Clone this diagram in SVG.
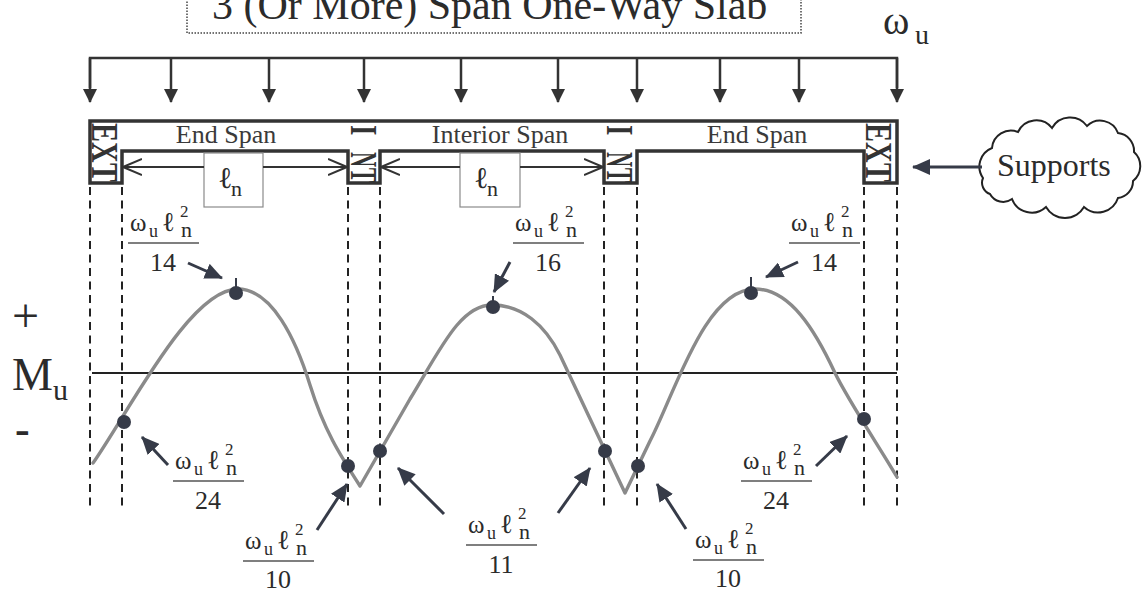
<svg xmlns="http://www.w3.org/2000/svg" width="1143" height="593" viewBox="0 0 1143 593">
<defs>
<style>
text{font-family:"Liberation Serif","Times New Roman",serif;fill:#2b2b2b}
.ld{stroke:#333;stroke-width:2.5;fill:none}
.ldr{stroke:#363b48;stroke-width:3;fill:none}
.dash{stroke:#222;stroke-width:2;stroke-dasharray:8 5.5;fill:none}
.dim{stroke:#333;stroke-width:2;fill:none}
.bar{stroke:#555;stroke-width:1.5}
.dot{fill:#363b48}
.w{font-size:25px}
.u{font-size:18px}
.l{font-size:27px}
.n{font-size:22px}
.s{font-size:17px}
.den{font-size:26px;text-anchor:middle}
.sp{font-weight:bold;font-size:38px;fill:#333}
.span{font-size:26px;text-anchor:middle;fill:#3a3a3a}
.lbox{fill:none;stroke:#8a8a8a;stroke-width:1.2}
</style>
<marker id="tri" viewBox="0 0 14 14" refX="13" refY="7" markerWidth="14" markerHeight="14" markerUnits="userSpaceOnUse" orient="auto"><path d="M0,0L14,7L0,14z" fill="#333"/></marker>
<marker id="big" viewBox="0 0 18 16" refX="17" refY="8" markerWidth="18" markerHeight="16" markerUnits="userSpaceOnUse" orient="auto"><path d="M0,0L18,8L0,16z" fill="#363b48"/></marker>
<marker id="chev" viewBox="0 0 20 18" refX="19" refY="9" markerWidth="20" markerHeight="18" markerUnits="userSpaceOnUse" orient="auto"><path d="M0,1L19,9L0,17" fill="none" stroke="#333" stroke-width="2"/></marker>
</defs>
<rect width="1143" height="593" fill="#fff"/>

<g id="title">
<rect x="187" y="-20" width="614" height="53" fill="none" stroke="#444" stroke-width="1.5" stroke-dasharray="1.5 1.5"/>
<text x="212" y="19" font-size="42">3 (Or More) Span One-Way Slab</text>
</g>

<g id="load-label">
<text x="883" y="34" font-size="40">ω</text>
<text x="915" y="44" font-size="28">u</text>
</g>

<g id="slab">
<path d="M90,121 H897 V183 H864 V151 H637 V183 H604 V151 H380 V183 H348 V151 H122 V183 H90 Z" fill="none" stroke="#333" stroke-width="3.5"/>
<text class="span" x="226" y="143">End Span</text>
<text class="span" x="500" y="143">Interior Span</text>
<text class="span" x="757" y="143">End Span</text>
</g>

<g id="support-ext-left">
<text class="sp" transform="translate(92,123) rotate(90) scale(0.75,1)">E</text>
<text class="sp" transform="translate(92,142) rotate(90) scale(0.75,1)">X</text>
<text class="sp" transform="translate(92,163) rotate(90) scale(0.75,1)">T</text>
</g>
<g id="support-int-1">
<text class="sp" transform="translate(351,125) rotate(90) scale(0.7,1)">I</text>
<text class="sp" transform="translate(351,152) rotate(90) scale(0.55,1)">N</text>
<text class="sp" transform="translate(351,168) rotate(90) scale(0.58,1)">T</text>
</g>
<g id="support-int-2">
<text class="sp" transform="translate(607,125) rotate(90) scale(0.7,1)">I</text>
<text class="sp" transform="translate(607,152) rotate(90) scale(0.55,1)">N</text>
<text class="sp" transform="translate(607,168) rotate(90) scale(0.58,1)">T</text>
</g>
<g id="support-ext-right">
<text class="sp" transform="translate(866,123) rotate(90) scale(0.75,1)">E</text>
<text class="sp" transform="translate(866,142) rotate(90) scale(0.75,1)">X</text>
<text class="sp" transform="translate(866,163) rotate(90) scale(0.75,1)">T</text>
</g>

<g id="ln-box-1">
<rect class="lbox" x="204" y="153" width="59" height="54"/>
<text x="218" y="188" font-size="30">ℓ</text>
<text x="231" y="196" font-size="22">n</text>
</g>
<g id="ln-box-2">
<rect class="lbox" x="460" y="153" width="60" height="54"/>
<text x="474" y="188" font-size="30">ℓ</text>
<text x="487" y="196" font-size="22">n</text>
</g>

<g id="supports-cloud">
<path d="M983,178 A20,20 0 0 1 992,148 A19,19 0 0 1 1018,132 A20,20 0 0 1 1052,128 A21,21 0 0 1 1087,126 A19,19 0 0 1 1118,133 A18,18 0 0 1 1134,152 A19,19 0 0 1 1133,181 A17,17 0 0 1 1118,198 A21,21 0 0 1 1084,207 A22,22 0 0 1 1046,207 A21,21 0 0 1 1012,199 A15,15 0 0 1 990,194 A12,12 0 0 1 983,178 Z" fill="#fff" stroke="#222" stroke-width="2"/>
<text x="997" y="176" font-size="32">Supports</text>
</g>

<g id="axis-labels">
<text x="12" y="332" font-size="48">+</text>
<text x="12" y="390" font-size="46">M</text>
<text x="53" y="400" font-size="30">u</text>
<text x="15" y="444" font-size="44" font-weight="bold">-</text>
</g>

<g id="guides">
<line class="dash" x1="90" y1="187" x2="90" y2="510"/>
<line class="dash" x1="122" y1="187" x2="122" y2="510"/>
<line class="dash" x1="348" y1="187" x2="348" y2="510"/>
<line class="dash" x1="380" y1="187" x2="380" y2="510"/>
<line class="dash" x1="604" y1="187" x2="604" y2="510"/>
<line class="dash" x1="637" y1="187" x2="637" y2="510"/>
<line class="dash" x1="864" y1="187" x2="864" y2="510"/>
<line class="dash" x1="897" y1="187" x2="897" y2="510"/>
<line x1="92" y1="373" x2="897" y2="373" stroke="#222" stroke-width="2"/>
</g>

<g id="moment-curve">
<path d="M93,463 C130,410 190,289 238,289 C272,289 296,340 310,385 S340,455 360,486 L410,399 C440,350 460,305 492,305 C522,305 545,325 560,355 L625,493 L650,441 C675,393 705,289 755,289 C790,289 815,330 835,373 C848,400 880,448 897,477" fill="none" stroke="#8a8a8a" stroke-width="3.4" stroke-linejoin="round" stroke-linecap="round"/>
<g stroke="#363b48" stroke-width="2">
<line x1="236" y1="278" x2="236" y2="289"/>
<line x1="493" y1="296" x2="493" y2="302"/>
<line x1="751" y1="277" x2="751" y2="288"/>
</g>
<circle class="dot" cx="124" cy="422" r="7"/>
<circle class="dot" cx="236" cy="293" r="7"/>
<circle class="dot" cx="348" cy="466" r="7"/>
<circle class="dot" cx="380" cy="451" r="7"/>
<circle class="dot" cx="493" cy="307" r="7"/>
<circle class="dot" cx="605" cy="451" r="7"/>
<circle class="dot" cx="638" cy="466" r="7"/>
<circle class="dot" cx="751" cy="293" r="7"/>
<circle class="dot" cx="864" cy="419" r="7"/>
</g>

<g id="label-14-left">
<text class="w" x="130" y="231">ω</text><text class="u" x="149" y="237">u</text><text class="l" x="162" y="231">ℓ</text><text class="s" x="180" y="217">2</text><text class="n" x="181" y="237">n</text>
<line class="bar" x1="128" y1="243" x2="199" y2="243"/>
<text class="den" x="163" y="271">14</text>
</g>
<g id="label-16">
<text class="w" x="515" y="231">ω</text><text class="u" x="534" y="237">u</text><text class="l" x="547" y="231">ℓ</text><text class="s" x="565" y="217">2</text><text class="n" x="566" y="237">n</text>
<line class="bar" x1="513" y1="243" x2="584" y2="243"/>
<text class="den" x="548" y="271">16</text>
</g>
<g id="label-14-right">
<text class="w" x="791" y="231">ω</text><text class="u" x="810" y="237">u</text><text class="l" x="823" y="231">ℓ</text><text class="s" x="841" y="217">2</text><text class="n" x="842" y="237">n</text>
<line class="bar" x1="789" y1="243" x2="860" y2="243"/>
<text class="den" x="824" y="271">14</text>
</g>
<g id="label-24-left">
<text class="w" x="175" y="469">ω</text><text class="u" x="194" y="475">u</text><text class="l" x="207" y="469">ℓ</text><text class="s" x="225" y="455">2</text><text class="n" x="226" y="475">n</text>
<line class="bar" x1="173" y1="481" x2="244" y2="481"/>
<text class="den" x="208" y="509">24</text>
</g>
<g id="label-10-left">
<text class="w" x="245" y="549">ω</text><text class="u" x="264" y="555">u</text><text class="l" x="277" y="549">ℓ</text><text class="s" x="295" y="535">2</text><text class="n" x="296" y="555">n</text>
<line class="bar" x1="243" y1="561" x2="314" y2="561"/>
<text class="den" x="278" y="588">10</text>
</g>
<g id="label-11">
<text class="w" x="468" y="533">ω</text><text class="u" x="487" y="539">u</text><text class="l" x="500" y="533">ℓ</text><text class="s" x="518" y="519">2</text><text class="n" x="519" y="539">n</text>
<line class="bar" x1="466" y1="545" x2="537" y2="545"/>
<text class="den" x="501" y="573">11</text>
</g>
<g id="label-10-right">
<text class="w" x="695" y="548">ω</text><text class="u" x="714" y="554">u</text><text class="l" x="727" y="548">ℓ</text><text class="s" x="745" y="534">2</text><text class="n" x="746" y="554">n</text>
<line class="bar" x1="693" y1="560" x2="764" y2="560"/>
<text class="den" x="728" y="587">10</text>
</g>
<g id="label-24-right">
<text class="w" x="743" y="469">ω</text><text class="u" x="762" y="475">u</text><text class="l" x="775" y="469">ℓ</text><text class="s" x="793" y="455">2</text><text class="n" x="794" y="475">n</text>
<line class="bar" x1="741" y1="481" x2="812" y2="481"/>
<text class="den" x="776" y="509">24</text>
</g>

<g id="connectors">
<polyline class="ld" points="90,88 90,58 897,58 897,88"/>
<g class="ld">
<line x1="90" y1="58" x2="90" y2="102" marker-end="url(#tri)"/>
<line x1="171" y1="58" x2="171" y2="102" marker-end="url(#tri)"/>
<line x1="269" y1="58" x2="269" y2="102" marker-end="url(#tri)"/>
<line x1="364" y1="58" x2="364" y2="102" marker-end="url(#tri)"/>
<line x1="461" y1="58" x2="461" y2="102" marker-end="url(#tri)"/>
<line x1="558" y1="58" x2="558" y2="102" marker-end="url(#tri)"/>
<line x1="637" y1="58" x2="637" y2="102" marker-end="url(#tri)"/>
<line x1="720" y1="58" x2="720" y2="102" marker-end="url(#tri)"/>
<line x1="799" y1="58" x2="799" y2="102" marker-end="url(#tri)"/>
<line x1="897" y1="58" x2="897" y2="102" marker-end="url(#tri)"/>
</g>
<g class="dim">
<line x1="204" y1="167" x2="123" y2="167" marker-end="url(#chev)"/>
<line x1="263" y1="167" x2="347" y2="167" marker-end="url(#chev)"/>
<line x1="460" y1="167" x2="381" y2="167" marker-end="url(#chev)"/>
<line x1="520" y1="167" x2="603" y2="167" marker-end="url(#chev)"/>
</g>
<g class="ldr">
<line x1="982" y1="167" x2="913" y2="167" marker-end="url(#big)"/>
<line x1="188" y1="263" x2="222" y2="278" marker-end="url(#big)"/>
<line x1="510" y1="262" x2="494" y2="292" marker-end="url(#big)"/>
<line x1="798" y1="262" x2="766" y2="277" marker-end="url(#big)"/>
<line x1="168" y1="465" x2="142" y2="437" marker-end="url(#big)"/>
<line x1="317" y1="530" x2="347" y2="484" marker-end="url(#big)"/>
<line x1="444" y1="514" x2="398" y2="468" marker-end="url(#big)"/>
<line x1="558" y1="513" x2="590" y2="468" marker-end="url(#big)"/>
<line x1="686" y1="529" x2="657" y2="484" marker-end="url(#big)"/>
<line x1="816" y1="466" x2="847" y2="436" marker-end="url(#big)"/>
</g>
</g>
</svg>
